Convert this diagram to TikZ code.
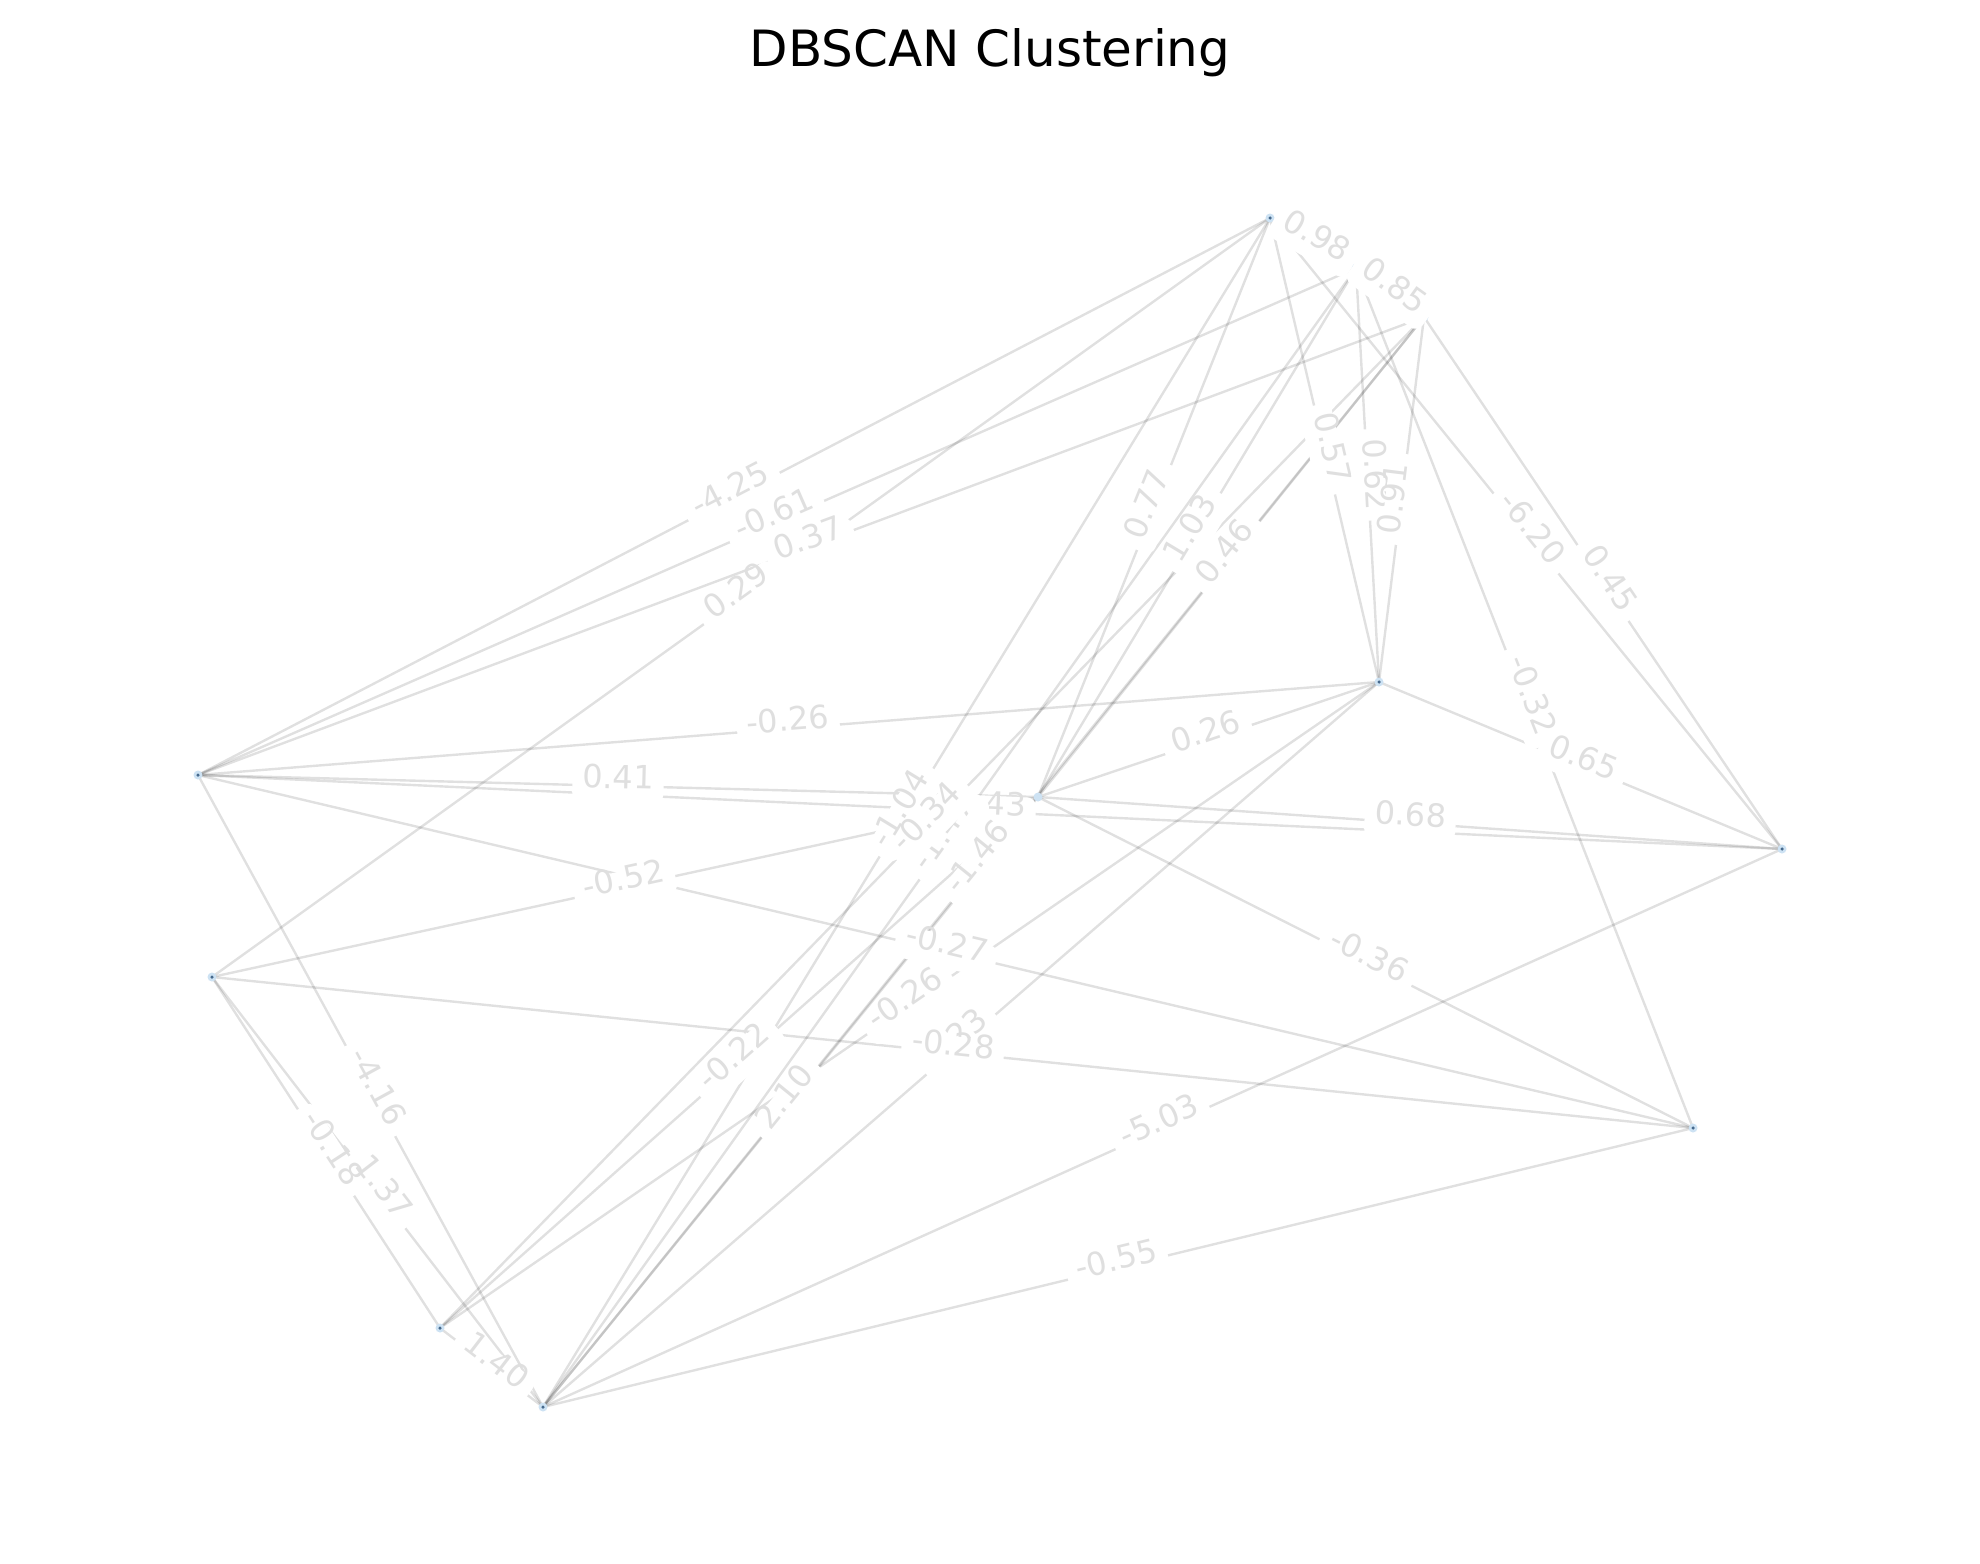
\documentclass[tikz,border=0pt]{standalone}
\usepackage{fontspec}
\setmainfont{DejaVu Sans}
\usetikzlibrary{calc}
\definecolor{labgray}{RGB}{223,223,223}
\definecolor{nodelight}{RGB}{205,226,243}
\definecolor{nodedark}{RGB}{70,105,140}
\newcommand\elab[4]{%
  \path let \p1=($(#2)-(#1)$), \n1={atan2(\y1,\x1)},
    \n2={ifthenelse(\n1>90,\n1-180,ifthenelse(\n1<-90,\n1+180,\n1))} in
    node[elabel, rotate=\n2] (#4) at ($(#1)!0.5!(#2)$) {#3};}
\begin{document}
\begin{tikzpicture}[x=1pt,y=-1pt,
  edge/.style={draw=black, draw opacity=0.12, line width=2.4pt},
  elabel/.style={fill=white, rounded corners=9pt, inner xsep=10pt, inner ysep=11pt,
    text=labgray, font=\fontsize{32}{38}\selectfont,
    text height=0.78em, text depth=0.27em},
  dotlight/.style={circle, fill=nodelight, inner sep=0pt, minimum size=9pt},
  dotdark/.style={circle, fill=nodedark, inner sep=0pt, minimum size=3.5pt},
  title/.style={font=\fontsize{50}{60}\selectfont, text=black}]
\useasboundingbox (0,0) rectangle (1980,1563);
\fill[white] (0,0) rectangle (1980,1563);
% positions
\coordinate (A) at (198,775);
\coordinate (B) at (212,977);
\coordinate (C) at (440,1328);
\coordinate (D) at (543,1407);
\coordinate (E) at (1270,218);
\coordinate (F) at (1356,268);
\coordinate (H) at (1424,317);
\coordinate (J) at (1379,682);
\coordinate (K) at (1038,797);
\coordinate (L) at (1782,849);
\coordinate (M) at (1693,1128);
% edges
\foreach \a/\b in {A/E,A/F,A/H,B/E,A/J,A/K,A/L,B/K,A/M,B/D,B/C,A/D,C/D,
  E/F,F/H,E/K,F/K,H/K,E/J,F/J,H/J,E/L,H/L,F/M,J/L,K/L,J/K,K/M,
  D/E,D/F,C/H,D/H,C/K,D/K,C/J,D/J,B/M,D/L,D/M}
  \draw[edge] (\a) -- (\b);
% nodes
\foreach \n in {A,B,C,D,E,F,H,J,K,L,M}
  \node[dotlight] (n\n) at (\n) {};
\foreach \n in {A,B,C,D,E,J,L,M}
  \node[dotdark] (c\n) at (\n) {};
% edge labels
\elab{A}{E}{-4.25}{lAE}
\elab{A}{F}{-0.61}{lAF}
\elab{A}{H}{0.37}{lAH}
\elab{B}{E}{0.29}{lBE}
\elab{A}{J}{-0.26}{lAJ}
\elab{A}{K}{0.41}{lAK}
\elab{A}{L}{0.43}{lAL}
\elab{B}{K}{-0.52}{lBK}
\elab{A}{M}{-0.27}{lAM}
\elab{B}{D}{1.37}{lBD}
\elab{B}{C}{-0.18}{lBC}
\elab{A}{D}{-4.16}{lAD}
\elab{C}{D}{1.40}{lCD}
\elab{E}{F}{0.98}{lEF}
\elab{F}{H}{0.85}{lFH}
\elab{E}{K}{0.77}{lEK}
\elab{F}{K}{1.03}{lFK}
\elab{H}{K}{0.46}{lHK}
\elab{E}{J}{0.57}{lEJ}
\elab{F}{J}{0.62}{lFJ}
\elab{H}{J}{0.91}{lHJ}
\elab{E}{L}{-6.20}{lEL}
\elab{H}{L}{0.45}{lHL}
\elab{F}{M}{-0.32}{lFM}
\elab{J}{L}{0.65}{lJL}
\elab{K}{L}{0.68}{lKL}
\elab{J}{K}{0.26}{lJK}
\elab{K}{M}{-0.36}{lKM}
\elab{D}{E}{-1.04}{lDE}
\elab{D}{F}{-1.47}{lDF}
\elab{C}{H}{-0.34}{lCH}
\elab{D}{H}{-1.46}{lDH}
\elab{C}{K}{-0.22}{lCK}
\elab{D}{K}{2.10}{lDK}
\elab{C}{J}{-0.26}{lCJ}
\elab{D}{J}{0.23}{lDJ}
\elab{B}{M}{-0.28}{lBM}
\elab{D}{L}{-5.03}{lDL}
\elab{D}{M}{-0.55}{lDM}
% title
\node[title] (ttl) at (990,53) {DBSCAN Clustering};
\end{tikzpicture}
\end{document}
